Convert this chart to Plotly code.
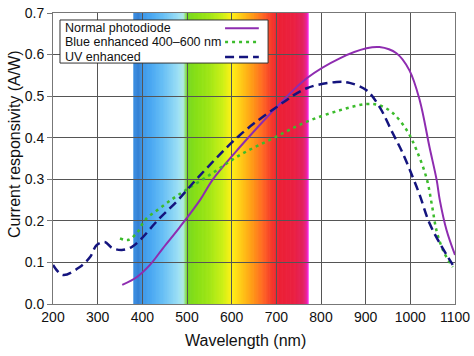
import plotly.graph_objects as go

# ---- data ----
wl_normal = [355, 388, 417, 446, 484, 529, 558, 618, 701, 768, 842, 902, 931, 969, 998, 1021, 1043, 1059, 1066, 1081, 1100]
resp_normal = [0.046, 0.065, 0.094, 0.134, 0.185, 0.25, 0.30, 0.377, 0.474, 0.543, 0.591, 0.615, 0.618, 0.603, 0.562, 0.49, 0.377, 0.298, 0.25, 0.178, 0.118]

wl_blue = [350, 368, 388, 406, 440, 480, 550, 618, 693, 767, 842, 902, 931, 961, 992, 1014, 1037, 1048, 1059, 1075, 1095]
resp_blue = [0.158, 0.154, 0.171, 0.202, 0.231, 0.262, 0.31, 0.358, 0.399, 0.438, 0.466, 0.481, 0.478, 0.459, 0.418, 0.37, 0.30, 0.24, 0.175, 0.125, 0.089]

wl_uv = [200, 222, 260, 283, 298, 316, 332, 354, 376, 395, 435, 480, 521, 618, 701, 768, 835, 864, 902, 931, 961, 983, 1005, 1020, 1043, 1066, 1095]
resp_uv = [0.094, 0.07, 0.089, 0.113, 0.142, 0.149, 0.135, 0.13, 0.137, 0.154, 0.202, 0.25, 0.30, 0.406, 0.474, 0.519, 0.534, 0.532, 0.514, 0.474, 0.41, 0.363, 0.306, 0.265, 0.194, 0.146, 0.094]

series_names = ["Normal photodiode", "Blue enhanced 400\u2013600 nm", "UV enhanced"]
series_colors = ["#8e2cb0", "#3cbc2c", "#14147e"]
series_dash = ["solid", "3px,4px", "9px,5px"]
series_width = [2, 2.5, 2.5]

# visible-spectrum band (wavelength stops and colours)
spec_wl = [380, 392, 400, 420, 445, 465, 480, 492, 500, 520, 550, 580, 600, 620, 645, 670, 690, 705, 740, 760, 768, 772]
spec_col = ["#2a86e0", "#2274d0", "#2e8ee6", "#3aa0f0", "#58b8f4", "#78ccf4", "#92dcf4", "#a8e8e0",
            "#6ad410", "#7cdc00", "#98e400", "#c8ee00", "#fff000", "#ffc800", "#ff9400", "#ff5a10",
            "#f42818", "#ea0c22", "#e80c30", "#e00c50", "#e81090", "#ff10ff"]

x_ticks = [200, 300, 400, 500, 600, 700, 800, 900, 1000, 1100]
y_ticks = [0.0, 0.1, 0.2, 0.3, 0.4, 0.5, 0.6, 0.7]

fig = go.Figure()


def hex2rgb(h):
    h = h.lstrip("#")
    return [int(h[i:i + 2], 16) for i in (0, 2, 4)]


def colour_at(w):
    for i in range(len(spec_wl) - 1):
        a, b = spec_wl[i], spec_wl[i + 1]
        if a <= w <= b:
            t = (w - a) / (b - a)
            ca, cb = hex2rgb(spec_col[i]), hex2rgb(spec_col[i + 1])
            c = [round(ca[k] + (cb[k] - ca[k]) * t) for k in range(3)]
            return "rgb(%d,%d,%d)" % tuple(c)
    return spec_col[-1]


shapes = []
lo, hi = spec_wl[0], spec_wl[-1]
step = 1.0
w = lo
while w < hi:
    shapes.append(dict(type="rect", xref="x", yref="y", x0=w, x1=min(w + step + 0.6, hi), y0=0, y1=0.7,
                       fillcolor=colour_at(w + step / 2), line=dict(width=0), layer="below"))
    w += step

for xs, ys, name, col, d, lw in zip([wl_normal, wl_blue, wl_uv], [resp_normal, resp_blue, resp_uv],
                                    series_names, series_colors, series_dash, series_width):
    fig.add_trace(go.Scatter(x=xs, y=ys, mode="lines", name=name,
                             line=dict(color=col, width=lw, dash=d, shape="spline")))

font = "Liberation Sans, Arial, sans-serif"

# custom legend (text then line sample), inside top-left
shapes.append(dict(type="rect", xref="paper", yref="paper", x0=0.0174, x1=0.535, y0=0.828, y1=0.976,
                   line=dict(color="#333333", width=1), fillcolor="white", layer="above"))
annotations = []
rows = [0.948, 0.900, 0.849]
for name, col, yy, d, lw in zip(series_names, series_colors, rows, series_dash, series_width):
    annotations.append(dict(text=name, x=0.025, y=yy, xref="paper", yref="paper", xanchor="left",
                            yanchor="middle", showarrow=False, font=dict(size=12.5, color="#111111", family=font)))
    shapes.append(dict(type="line", xref="paper", yref="paper", x0=0.428, x1=0.512, y0=yy, y1=yy,
                       line=dict(color=col, width=lw, dash=d), layer="above"))

annotations.append(dict(text="Wavelength (nm)", x=(245 - 53) / 402, y=-0.125, xref="paper", yref="paper",
                        xanchor="center", yanchor="middle", showarrow=False,
                        font=dict(size=16, color="#111111", family=font)))
annotations.append(dict(text="Current responsivity (A/W)", x=(15 - 53) / 402, y=0.55, xref="paper", yref="paper",
                        xanchor="center", yanchor="middle", showarrow=False, textangle=-90,
                        font=dict(size=16, color="#111111", family=font)))

fig.update_layout(
    width=474, height=356,
    margin=dict(l=53, r=19, t=13, b=52, autoexpand=False),
    paper_bgcolor="white", plot_bgcolor="white",
    showlegend=False,
    font=dict(family=font, size=14, color="#111111"),
    shapes=shapes, annotations=annotations,
)
fig.update_xaxes(range=[200, 1100], tickvals=x_ticks, ticktext=[str(v) for v in x_ticks],
                 showgrid=True, gridcolor="#555555", gridwidth=1, zeroline=False,
                 showline=True, linecolor="#777777", linewidth=1, mirror=True, automargin=False,
                 ticks="", tickfont=dict(size=14))
fig.update_yaxes(range=[0, 0.7], tickvals=y_ticks, ticktext=["%.1f" % v for v in y_ticks],
                 showgrid=True, gridcolor="#555555", gridwidth=1, zeroline=False,
                 showline=True, linecolor="#777777", linewidth=1, mirror=True, automargin=False,
                 ticks="outside", ticklen=5, tickcolor="#777777", tickfont=dict(size=14))

fig.write_html("out.html", config={"displayModeBar": False},
               post_script="document.body.style.margin='0';")
